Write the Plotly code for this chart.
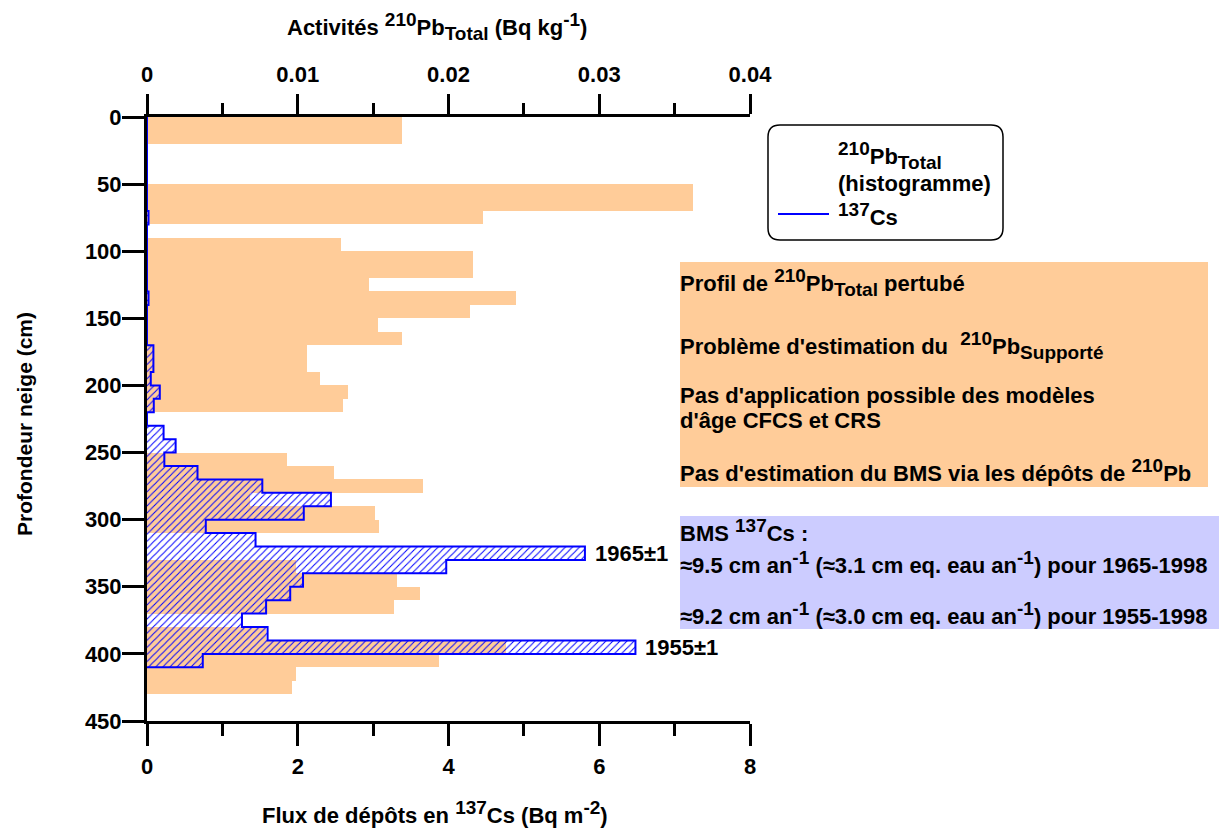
import plotly.graph_objects as go

# ---------------- data ----------------
# 210Pb total activity histogram (depth top, depth bottom, activity Bq kg-1)
pb_top = [0, 50, 70, 90, 100, 120, 130, 140, 150, 160, 170, 190, 200, 210,
          250, 260, 270, 280, 290, 300, 330, 340, 350, 360, 380, 390, 400, 410, 420]
pb_bot = [20, 70, 80, 100, 120, 130, 140, 150, 160, 170, 190, 200, 210, 220,
          260, 270, 280, 290, 300, 310, 340, 350, 360, 370, 390, 400, 410, 420, 430]
pb_val = [0.0169, 0.0362, 0.0223, 0.0129, 0.0216, 0.0147, 0.0245, 0.0214, 0.0153, 0.0169,
          0.0106, 0.0115, 0.0133, 0.0130,
          0.0093, 0.0124, 0.0183, 0.0068, 0.0151, 0.0154, 0.0099, 0.0166, 0.0181, 0.0164,
          0.0079, 0.0238, 0.0194, 0.0099, 0.0096]

# 137Cs deposition flux (depth top, depth bottom, flux Bq m-2)
cs_top = [0, 70, 80, 130, 140, 170, 190, 200, 210, 220, 230, 240, 250, 260, 270, 280,
          290, 300, 310, 320, 330, 340, 350, 360, 370, 380, 390, 400]
cs_bot = [70, 80, 130, 140, 170, 190, 200, 210, 220, 230, 240, 250, 260, 270, 280, 290,
          300, 310, 320, 330, 340, 350, 360, 370, 380, 390, 400, 410]
cs_val = [0, 0.02, 0, 0.02, 0, 0.085, 0.05, 0.17, 0.09, 0, 0.22, 0.38, 0.23, 0.67, 1.53, 2.44,
          2.08, 0.78, 1.44, 5.81, 3.97, 2.07, 1.90, 1.58, 1.26, 1.60, 6.48, 0.74]

depth_ticks = [0, 50, 100, 150, 200, 250, 300, 350, 400, 450]
flux_ticks = [0, 2, 4, 6, 8]
pb_ticks = [0, 0.01, 0.02, 0.03, 0.04]
pb_ticktext = ["0", "0.01", "0.02", "0.03", "0.04"]

FONT = "Liberation Sans"
OFF = 8                     # page body margin
W, H = 1227 - OFF, 830 - OFF
L, R, T, B = 147, 750, 117, 721  # plot area in page px
FS = 22                     # axis font size
TS = 22                     # box text size


def px(xp):
    return (xp - L) / (R - L)


def py(yp):
    return (B - yp) / (B - T)


def sup(s, size):
    return f"<sup><span style='font-size:{size}px'>{s}</span></sup>"


def sub(s, size):
    return f"<sub><span style='font-size:{size}px'>{s}</span></sub>"


fig = go.Figure()

# Pb histogram (base axis, drawn first)
fig.add_trace(go.Bar(
    orientation="h",
    y=[(t + b) / 2 for t, b in zip(pb_top, pb_bot)],
    width=[b - t for t, b in zip(pb_top, pb_bot)],
    x=pb_val,
    marker=dict(color="#FFCC99", line=dict(width=0)),
    xaxis="x", yaxis="y",
    showlegend=False,
))

# Cs hatched bars
fig.add_trace(go.Bar(
    orientation="h",
    y=[(t + b) / 2 for t, b in zip(cs_top, cs_bot)],
    width=[b - t for t, b in zip(cs_top, cs_bot)],
    x=cs_val,
    marker=dict(color="rgba(0,0,0,0)", line=dict(width=0),
                pattern=dict(shape="/", fgcolor="#0000FF", bgcolor="rgba(0,0,0,0)",
                             size=5, solidity=0.2, fillmode="replace")),
    xaxis="x2", yaxis="y",
    showlegend=False,
))

# Cs step outline
ox, oy = [], []
for t, b, v in zip(cs_top, cs_bot, cs_val):
    ox += [v, v]
    oy += [t, b]
ox.append(0)
oy.append(cs_bot[-1])
fig.add_trace(go.Scatter(
    x=ox, y=oy, mode="lines", line=dict(color="#0000FF", width=2),
    xaxis="x2", yaxis="y", showlegend=False,
))

tickfont = dict(family=FONT, size=FS, color="black", weight="bold")

fig.update_layout(
    width=W, height=H,
    margin=dict(l=L - OFF, r=W - (R - OFF), t=T - OFF, b=H - (B - OFF), pad=0),
    paper_bgcolor="white", plot_bgcolor="white",
    barmode="overlay", bargap=0,
    showlegend=False,
    xaxis=dict(
        side="top", range=[0, 0.04], tickvals=pb_ticks, ticktext=pb_ticktext,
        ticks="outside", ticklen=20, tickwidth=2.5, tickcolor="black",
        showline=True, linewidth=3, linecolor="black", showgrid=False, zeroline=False,
        minor=dict(dtick=0.005, tick0=0, ticks="outside", ticklen=11, tickwidth=2.5,
                   tickcolor="black", showgrid=False),
        tickfont=tickfont, ticklabelstandoff=3, fixedrange=True,
    ),
    xaxis2=dict(
        overlaying="x", side="bottom", anchor="y", range=[0, 8], tickvals=flux_ticks,
        ticks="outside", ticklen=22, tickwidth=2.5, tickcolor="black",
        showline=True, linewidth=3, linecolor="black", showgrid=False, zeroline=False,
        minor=dict(dtick=1, tick0=0, ticks="outside", ticklen=12, tickwidth=2.5,
                   tickcolor="black", showgrid=False),
        tickfont=tickfont, ticklabelstandoff=2,
    ),
    yaxis=dict(
        range=[450, 0], tickvals=depth_ticks,
        ticks="outside", ticklen=22, tickwidth=2.5, tickcolor="black",
        showline=True, linewidth=3, linecolor="black", showgrid=False, zeroline=False,
        tickfont=tickfont, ticklabelstandoff=-4,
    ),
)

ann = []


def text(xp, yp, s, size=TS, xanchor="left", yanchor="middle", **kw):
    ann.append(dict(x=px(xp), y=py(yp), xref="paper", yref="paper", text=s, showarrow=False,
                    xanchor=xanchor, yanchor=yanchor, align="left",
                    font=dict(family=FONT, size=size, color="black", weight="bold"), **kw))


ss = 19  # super/subscript size
# axis titles
text(437, 26, f"Activités {sup('210', ss)}Pb{sub('Total', ss)} (Bq kg{sup('-1', ss)})", size=FS,
     xanchor="center")
text(435, 812, f"Flux de dépôts en {sup('137', ss)}Cs (Bq m{sup('-2', ss)})", size=FS,
     xanchor="center")
text(24, 424, "Profondeur neige (cm)", size=21, xanchor="center", textangle=-90)

# legend texts
text(836, 155, f"{sup('210', ss)}Pb{sub('Total', ss)}")
text(836, 183, "(histogramme)")
text(836, 214, f"{sup('137', ss)}Cs")

# orange box texts
BX = 678
text(BX, 282, f"Profil de {sup('210', ss)}Pb{sub('Total', ss)} pertubé")
text(BX, 345, f"Problème d'estimation du  {sup('210', ss)}Pb{sub('Supporté', ss)}")
text(BX, 395, "Pas d'application possible des modèles")
text(BX, 420, "d'âge CFCS et CRS")
text(BX, 470, f"Pas d'estimation du BMS via les dépôts de {sup('210', ss)}Pb")

# lavender box texts
text(BX, 530, f"BMS {sup('137', ss)}Cs :")
text(BX, 562, f"≈9.5 cm an{sup('-1', ss)} (≈3.1 cm eq. eau an{sup('-1', ss)}) pour 1965-1998")
text(BX, 613, f"≈9.2 cm an{sup('-1', ss)} (≈3.0 cm eq. eau an{sup('-1', ss)}) pour 1955-1998")

# date markers
for xv, yv, s in [(cs_val[19], 325, "1965±1"), (cs_val[26], 395, "1955±1")]:
    ann.append(dict(x=xv, y=yv, xref="x2", yref="y", text=s, showarrow=False,
                    xanchor="left", yanchor="middle", xshift=8,
                    font=dict(family=FONT, size=TS, color="black", weight="bold")))

fig.update_layout(annotations=ann)

shapes = []
# orange info box
shapes.append(dict(type="rect", xref="paper", yref="paper", x0=px(680), x1=px(1208),
                   y0=py(487), y1=py(262), fillcolor="#FFCC99", line=dict(width=0), layer="below"))
# lavender info box
shapes.append(dict(type="rect", xref="paper", yref="paper", x0=px(680), x1=px(1220),
                   y0=py(629), y1=py(516), fillcolor="#CCCCFF", line=dict(width=0), layer="below"))

# rounded legend box
x0, x1, y0, y1, r = 768, 1003, 125, 240, 12


def P(a, b):
    return f"{px(a):.5f},{py(b):.5f}"


path = (f"M {P(x0 + r, y0)} L {P(x1 - r, y0)} Q {P(x1, y0)} {P(x1, y0 + r)} "
        f"L {P(x1, y1 - r)} Q {P(x1, y1)} {P(x1 - r, y1)} "
        f"L {P(x0 + r, y1)} Q {P(x0, y1)} {P(x0, y1 - r)} "
        f"L {P(x0, y0 + r)} Q {P(x0, y0)} {P(x0 + r, y0)} Z")
shapes.append(dict(type="path", xref="paper", yref="paper", path=path,
                   line=dict(color="black", width=1.5), fillcolor="white", layer="below"))
# legend line
shapes.append(dict(type="line", xref="paper", yref="paper", x0=px(778), x1=px(829),
                   y0=py(214), y1=py(214), line=dict(color="#0000FF", width=2)))

fig.update_layout(shapes=shapes)

fig.write_html("out.html")
